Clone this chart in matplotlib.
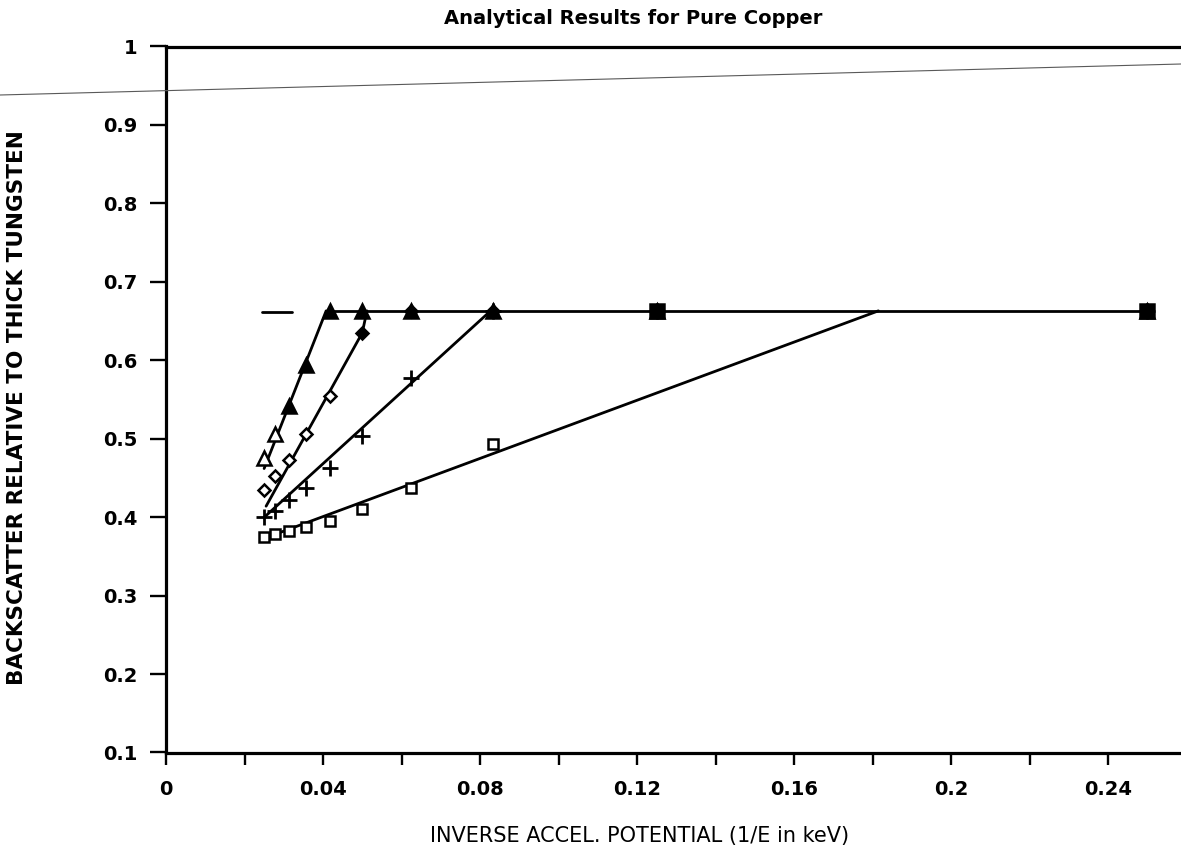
import matplotlib
matplotlib.use("Agg")
import matplotlib.pyplot as plt
from matplotlib.lines import Line2D
from matplotlib.ticker import FixedLocator

plt.rcParams['font.family'] = ['DejaVu Sans']

# Beam energies (keV) and the abscissa 1/E
energy_kev = [40, 36, 32, 28, 24, 20, 16, 12, 8, 4]
inv_energy = [0.025, 0.0278, 0.0313, 0.0357, 0.0417, 0.05, 0.0625, 0.0833, 0.125, 0.25]

# Backscatter ratio relative to thick tungsten, one list per film series
series_triangle = [0.476, 0.506, 0.542, 0.594, 0.663, 0.663, 0.663, 0.663, 0.663, 0.663]
series_diamond = [0.435, 0.452, 0.473, 0.506, 0.554, 0.635, 0.663, 0.663, 0.663, 0.663]
series_plus = [0.400, 0.408, 0.422, 0.437, 0.463, 0.504, 0.578, 0.663, 0.663, 0.663]
series_square = [0.375, 0.378, 0.382, 0.388, 0.395, 0.410, 0.437, 0.493, 0.663, 0.663]

# Which symbols are plotted solid
filled_triangle = [False, False, True, True, True, True, True, True, True, True]
filled_diamond = [False, False, False, False, False, True, True, True, True, True]
filled_square = [False, False, False, False, False, False, False, False, True, True]

# Analytical curves: linear rise up to the thick-copper saturation level
curve_triangle_x = [0.025, 0.0408]
curve_triangle_y = [0.462, 0.663]
curve_diamond_x = [0.0255, 0.050, 0.0512]
curve_diamond_y = [0.414, 0.635, 0.663]
curve_plus_x = [0.0255, 0.0827]
curve_plus_y = [0.402, 0.663]
curve_square_x = [0.0245, 0.1815]
curve_square_y = [0.372, 0.663]
saturation_x = [0.0408, 0.25]
saturation_y = [0.663, 0.663]
stub_x = [0.0244, 0.0320]
stub_y = [0.662, 0.662]

# Axis ticks
x_major = [0.00, 0.04, 0.08, 0.12, 0.16, 0.20, 0.24]
x_major_labels = ['0', '0.04', '0.08', '0.12', '0.16', '0.2', '0.24']
x_minor = [0.02, 0.06, 0.10, 0.14, 0.18, 0.22]
y_major = [0.1, 0.2, 0.3, 0.4, 0.5, 0.6, 0.7, 0.8, 0.9, 1.0]
y_major_labels = ['0.1', '0.2', '0.3', '0.4', '0.5', '0.6', '0.7', '0.8', '0.9', '1']

W, H = 1181, 852
fig = plt.figure(figsize=(W / 100, H / 100), dpi=100)
fig.patch.set_facecolor('white')

left_px, right_px = 166, 1181
bottom_px, top_px = 752.5, 46.5
ax = fig.add_axes([left_px / W, 1 - bottom_px / H,
                   (right_px - left_px) / W, (bottom_px - top_px) / H])
ax.patch.set_alpha(0)
px_per_unit = 3925.0
ax.set_xlim(0, (right_px - left_px) / px_per_unit)
ax.set_ylim(0.1, 1.0)

ax.spines['right'].set_visible(False)
for side in ('left', 'bottom', 'top'):
    ax.spines[side].set_linewidth(2.3)
    ax.spines[side].set_capstyle('projecting')

ax.xaxis.set_major_locator(FixedLocator(x_major))
ax.xaxis.set_minor_locator(FixedLocator(x_minor))
ax.set_xticklabels(x_major_labels)
ax.yaxis.set_major_locator(FixedLocator(y_major))
ax.set_yticklabels(y_major_labels)

ax.tick_params(axis='x', which='both', direction='out', length=8.5, width=1.7,
               pad=11, labelsize=14, top=False)
ax.tick_params(axis='y', which='both', direction='out', length=11.5, width=1.7,
               pad=9, labelsize=14, right=False)
for lab in ax.get_xticklabels() + ax.get_yticklabels():
    lab.set_fontweight('bold')

line_kw = dict(color='black', linewidth=2.0, solid_capstyle='round', zorder=3)
ax.plot(curve_triangle_x, curve_triangle_y, **line_kw)
ax.plot(curve_diamond_x, curve_diamond_y, **line_kw)
ax.plot(curve_plus_x, curve_plus_y, **line_kw)
ax.plot(curve_square_x, curve_square_y, **line_kw)
ax.plot(saturation_x, saturation_y, **line_kw)
ax.plot(stub_x, stub_y, **line_kw)


def draw_symbols(xs, ys, filled, marker, size, solid_size=None):
    open_pts = [(x, y) for x, y, f in zip(xs, ys, filled) if not f]
    solid_pts = [(x, y) for x, y, f in zip(xs, ys, filled) if f]
    for pts, face, ms in ((open_pts, 'white', size),
                          (solid_pts, 'black', solid_size or size)):
        if not pts:
            continue
        px, py = zip(*pts)
        ax.plot(px, py, linestyle='none', marker=marker, markersize=ms,
                markerfacecolor=face, markeredgecolor='black',
                markeredgewidth=1.8, zorder=4, clip_on=False)


draw_symbols(inv_energy, series_square, filled_square, 's', 7.5, solid_size=9.5)
draw_symbols(inv_energy, series_diamond, filled_diamond, 'D', 6.2)
draw_symbols(inv_energy, series_triangle, filled_triangle, '^', 9.5)
ax.plot(inv_energy, series_plus, linestyle='none', marker='+', markersize=11,
        markeredgewidth=2.0, color='black', zorder=4, clip_on=False)

# Titles and axis labels
fig.text(633 / W, 1 - 18 / H, 'Analytical Results for Pure Copper',
         ha='center', va='center', fontsize=14, fontweight='bold')
fig.text(640 / W, 1 - 836 / H, 'INVERSE ACCEL. POTENTIAL (1/E in keV)',
         ha='center', va='center', fontsize=15)
fig.text(17 / W, 1 - 408 / H, 'BACKSCATTER RELATIVE TO THICK TUNGSTEN',
         ha='center', va='center', rotation=90, fontsize=15.5, fontweight='bold')

# Faint ruled line running across the sheet
fig.add_artist(Line2D([0, 1], [1 - 95 / H, 1 - 64 / H], transform=fig.transFigure,
                      color='0.35', linewidth=0.8, zorder=10))

fig.savefig('out.png', dpi=100, facecolor='white')
